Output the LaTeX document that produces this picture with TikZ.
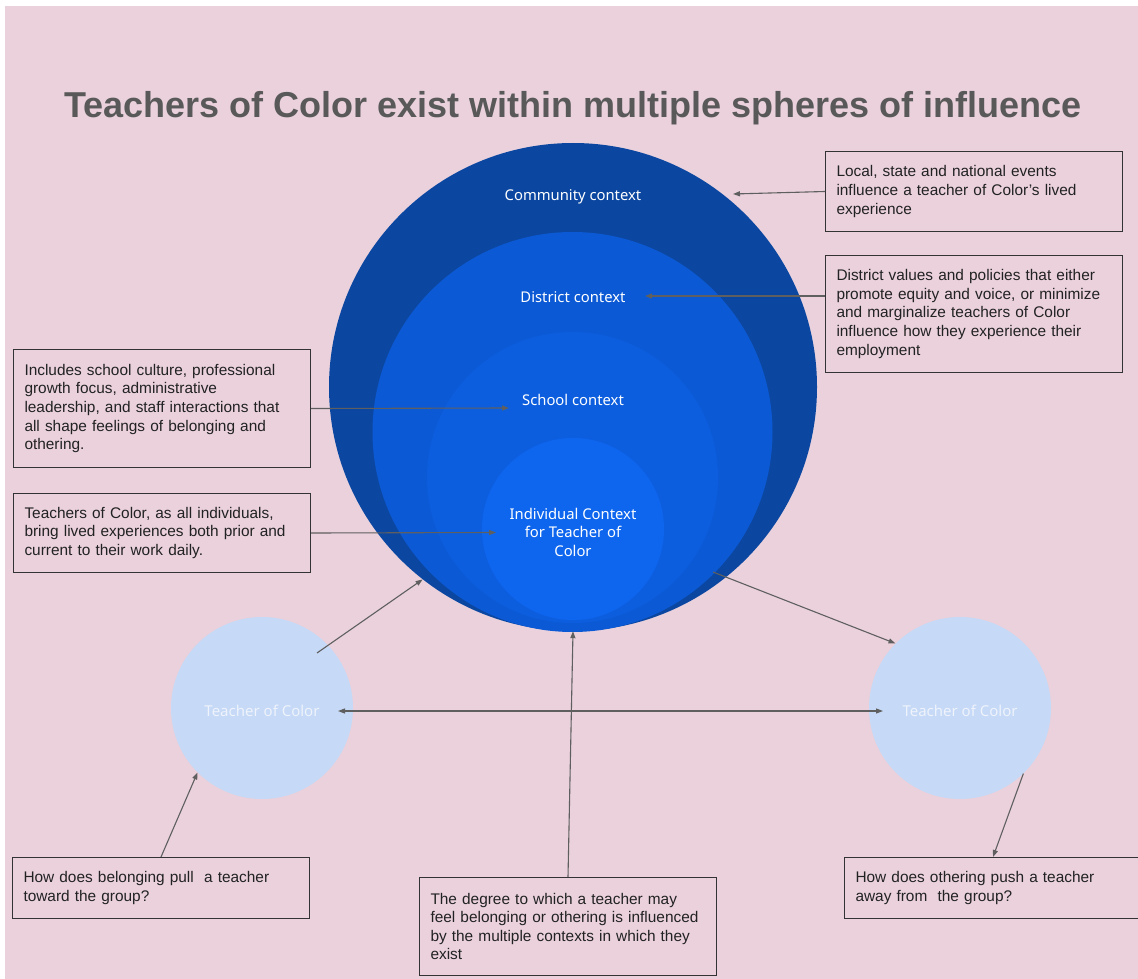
\documentclass[tikz,border=0pt]{standalone}
\usepackage{fontspec}
\setmainfont{Liberation Sans}
\newfontfamily\circfont{Noto Sans}
\usetikzlibrary{arrows.meta,calc}
\definecolor{bgpink}{HTML}{EAD1DC}
\definecolor{titlegrey}{HTML}{595959}
\definecolor{linegrey}{HTML}{5F5F5F}
\definecolor{boxtext}{HTML}{222222}
\definecolor{community}{HTML}{0B47A1}
\definecolor{district}{HTML}{0B59D5}
\definecolor{school}{HTML}{0C5EDF}
\definecolor{individual}{HTML}{0F66EE}
\definecolor{tocfill}{HTML}{C6D9F6}
\definecolor{toctext}{HTML}{EEF3FC}
\tikzset{
  infobox/.style={draw=black!80, line width=1pt, anchor=north west, inner xsep=11pt,
    inner ysep=0pt, align=left, text=boxtext, font=\fontsize{15.4}{18.6}\selectfont},
  sphere/.style={circle, inner sep=0pt, draw=none},
  spherelabel/.style={text=white, font=\circfont\fontsize{14.8}{18.5}\selectfont, align=center},
  toclabel/.style={text=toctext, font=\circfont\fontsize{15}{18.5}\selectfont},
  link/.style={draw=linegrey, line width=1.1pt, -{Triangle[length=7pt,width=5pt]}},
  twolink/.style={draw=linegrey, line width=1.1pt, {Triangle[length=7pt,width=5pt]}-{Triangle[length=7pt,width=5pt]}}
}
\begin{document}
\begin{tikzpicture}[x=1pt,y=-1pt]
\useasboundingbox (0,0) rectangle (1138,979);
\clip (0,0) rectangle (1138,979);
\fill[bgpink] (5,6) rectangle (1138,979);

% title
\node[anchor=base, text=titlegrey, font=\fontsize{36}{40}\selectfont\bfseries] (title) at (573,118)
  {Teachers of Color exist within multiple spheres of influence};

% nested spheres
\node[sphere, fill=community, minimum size=488pt] (comm) at (573,387) {};
\node[sphere, fill=district, minimum size=400pt] (dist) at (572.5,432) {};
\node[sphere, fill=school, minimum size=291pt] (school) at (572.5,477.5) {};
\node[sphere, fill=individual, minimum size=182pt] (indiv) at (573,529) {};

\node[spherelabel] (commlbl) at (573,197) {Community context};
\node[spherelabel] (distlbl) at (573,297) {District context};
\node[spherelabel] (schoollbl) at (573,400) {School context};
\node[spherelabel] (indivlbl) at (573,532) {Individual Context\\for Teacher of\\Color};

% two teachers
\node[sphere, fill=tocfill, minimum size=182pt] (toc1) at (262,708) {};
\node[sphere, fill=tocfill, minimum size=182pt] (toc2) at (960,708) {};
\node[toclabel] (toc1lbl) at (262,711) {Teacher of Color};
\node[toclabel] (toc2lbl) at (960,711) {Teacher of Color};

% explanatory boxes
\node[infobox, text width=275pt, minimum height=80pt] (box1) at (825,151)
  {Local, state and national events\\influence a teacher of Color’s lived\\experience};
\node[infobox, text width=275pt, minimum height=117pt] (box2) at (825,255)
  {District values and policies that either\\promote equity and voice, or minimize\\and marginalize teachers of Color\\influence how they experience their\\employment};
\node[infobox, text width=275pt, minimum height=118pt] (box3) at (13,349)
  {Includes school culture, professional\\growth focus, administrative\\leadership, and staff interactions that\\all shape feelings of belonging and\\othering.};
\node[infobox, text width=275pt, minimum height=79pt] (box4) at (13,493)
  {Teachers of Color, as all individuals,\\bring lived experiences both prior and\\current to their work daily.};
\node[infobox, text width=275pt, minimum height=61pt] (box5) at (12,857)
  {How does belonging pull\ \ a teacher\\toward the group?};
\node[infobox, text width=275pt, minimum height=98pt] (box6) at (419,877)
  {The degree to which a teacher may\\feel belonging or othering is influenced\\by the multiple contexts in which they\\exist};
\node[infobox, text width=300pt, minimum height=61pt] (box7) at (844,857)
  {How does othering push a teacher\\away from\ \ the group?};

% connector end points
\coordinate (c1) at (733,194);
\coordinate (c2) at (645,296);
\coordinate (c3) at (509,408);
\coordinate (c4) at (496,532.5);
\coordinate (c5) at (317,653);
\coordinate (c6) at (713,572);
\coordinate (c7a) at (338,711);
\coordinate (c7b) at (883,711);
\coordinate (c9) at (993,857);

% connectors
\draw[link] (box1.west) -- (c1);
\draw[link] (box2.west |- c2) -- (c2);
\draw[link] (box3.east) -- (c3);
\draw[link] (box4.east) -- (c4);
\draw[link] (c5) -- (comm.232);
\draw[link] (c6) -- (toc2.135);
\draw[twolink] (c7a) -- (c7b);
\draw[link] (box5.north) -- (toc1.225);
\draw[link] (toc2.-46) -- (c9);
\draw[link] (box6.north) -- (comm.south);
\end{tikzpicture}
\end{document}
